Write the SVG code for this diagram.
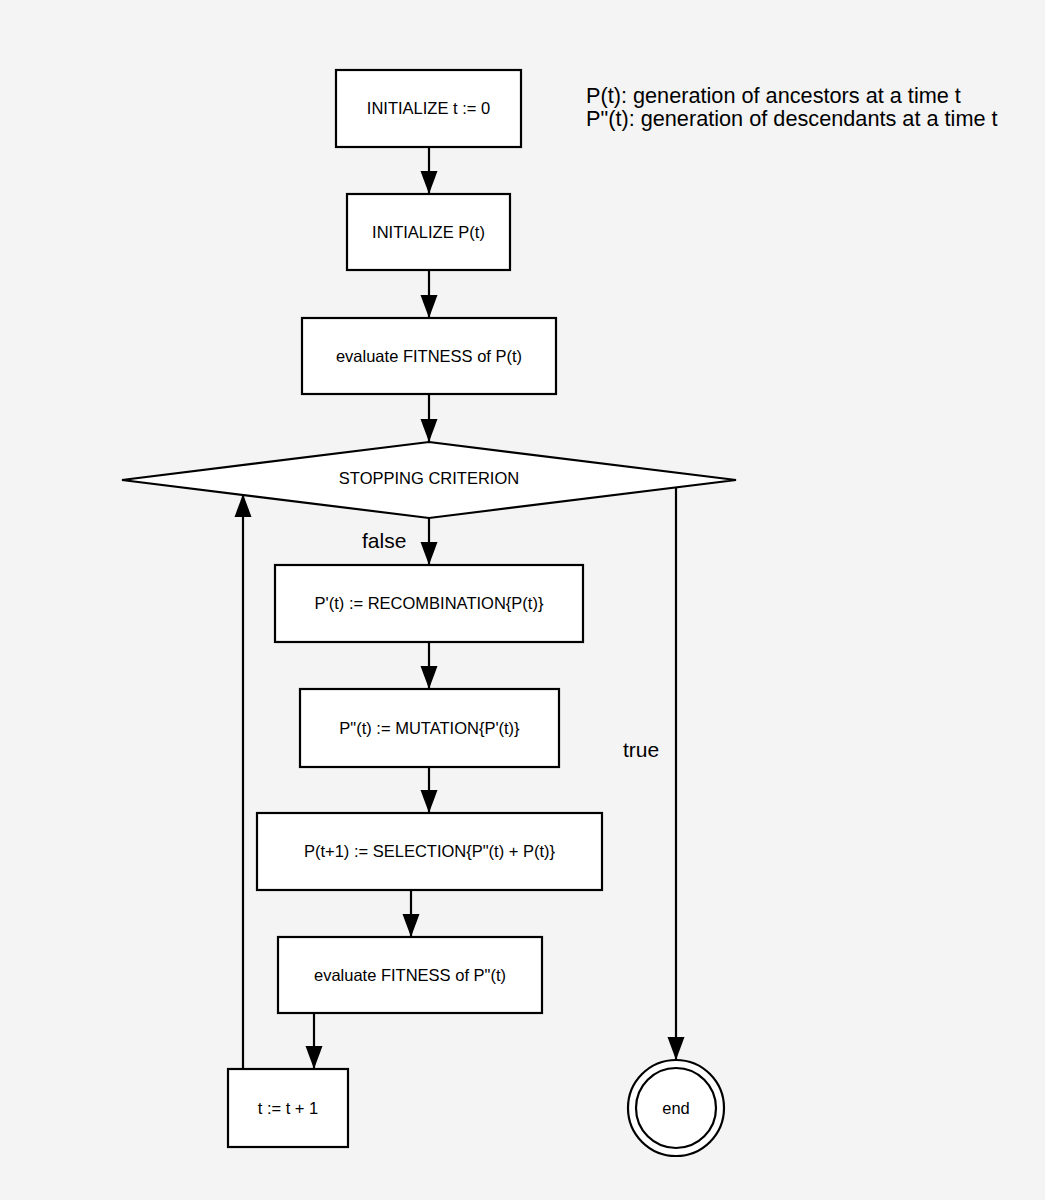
<svg xmlns="http://www.w3.org/2000/svg" width="1045" height="1200" viewBox="0 0 1045 1200">
<style>
.bg{fill:#f4f4f4}
.box{fill:#ffffff;stroke:#000000;stroke-width:2.2}
.t{font-family:"Liberation Sans",Arial,Helvetica,sans-serif;font-size:16.5px;fill:#000;text-anchor:middle}
.lbl{font-family:"Liberation Sans",Arial,Helvetica,sans-serif;font-size:21px;fill:#000}
.leg{font-family:"Liberation Sans",Arial,Helvetica,sans-serif;font-size:21.7px;fill:#000}
.c{fill:none;stroke:#000;stroke-width:2.2}
</style>
<defs>
<marker id="ah" markerUnits="userSpaceOnUse" markerWidth="24" markerHeight="18" viewBox="0 0 24 18" refX="23" refY="9" orient="auto">
<path d="M0,0.5 L23,9 L0,17.5 z" fill="#000"/>
</marker>
</defs>
<rect class="bg" x="0" y="0" width="1045" height="1200"/>
<g id="legend">
<text class="leg" x="586" y="103">P(t): generation of ancestors at a time t</text>
<text class="leg" x="586" y="126">P"(t): generation of descendants at a time t</text>
</g>
<g id="connectors">
<line class="c" x1="429" y1="147" x2="429" y2="194" marker-end="url(#ah)"/>
<line class="c" x1="429" y1="270" x2="429" y2="318" marker-end="url(#ah)"/>
<line class="c" x1="429" y1="394" x2="429" y2="442" marker-end="url(#ah)"/>
<line class="c" x1="429" y1="518" x2="429" y2="565" marker-end="url(#ah)"/>
<line class="c" x1="429" y1="642" x2="429" y2="689" marker-end="url(#ah)"/>
<line class="c" x1="429" y1="767" x2="429" y2="813" marker-end="url(#ah)"/>
<line class="c" x1="411" y1="890" x2="411" y2="937" marker-end="url(#ah)"/>
<line class="c" x1="314" y1="1013" x2="314" y2="1069" marker-end="url(#ah)"/>
<line class="c" x1="243" y1="1069" x2="243" y2="494" marker-end="url(#ah)"/>
<line class="c" x1="676" y1="487" x2="676" y2="1060" marker-end="url(#ah)"/>
<text class="lbl" x="362" y="548">false</text>
<text class="lbl" x="623" y="757">true</text>
</g>
<g id="n1"><rect class="box" x="336" y="70" width="185" height="77"/><text class="t" x="428.5" y="114">INITIALIZE t := 0</text></g>
<g id="n2"><rect class="box" x="347" y="194" width="163" height="76"/><text class="t" x="428.5" y="238">INITIALIZE P(t)</text></g>
<g id="n3"><rect class="box" x="302" y="318" width="254" height="76"/><text class="t" x="429" y="362">evaluate FITNESS of P(t)</text></g>
<g id="n4"><polygon class="box" points="429,442 736,480 429,518 122,480"/><text class="t" x="429" y="484">STOPPING CRITERION</text></g>
<g id="n5"><rect class="box" x="275" y="565" width="308" height="77"/><text class="t" x="429" y="609">P'(t) := RECOMBINATION{P(t)}</text></g>
<g id="n6"><rect class="box" x="300" y="689" width="259" height="78"/><text class="t" x="429.5" y="734">P"(t) := MUTATION{P'(t)}</text></g>
<g id="n7"><rect class="box" x="257" y="813" width="345" height="77"/><text class="t" x="429.5" y="857">P(t+1) := SELECTION{P"(t) + P(t)}</text></g>
<g id="n8"><rect class="box" x="278" y="937" width="264" height="76"/><text class="t" x="410" y="981">evaluate FITNESS of P"(t)</text></g>
<g id="n9"><rect class="box" x="228" y="1069" width="120" height="78"/><text class="t" x="288" y="1114">t := t + 1</text></g>
<g id="n10"><circle class="box" cx="676" cy="1108" r="48"/><circle class="box" cx="676" cy="1108" r="40"/><text class="t" x="676" y="1114">end</text></g>
</svg>
